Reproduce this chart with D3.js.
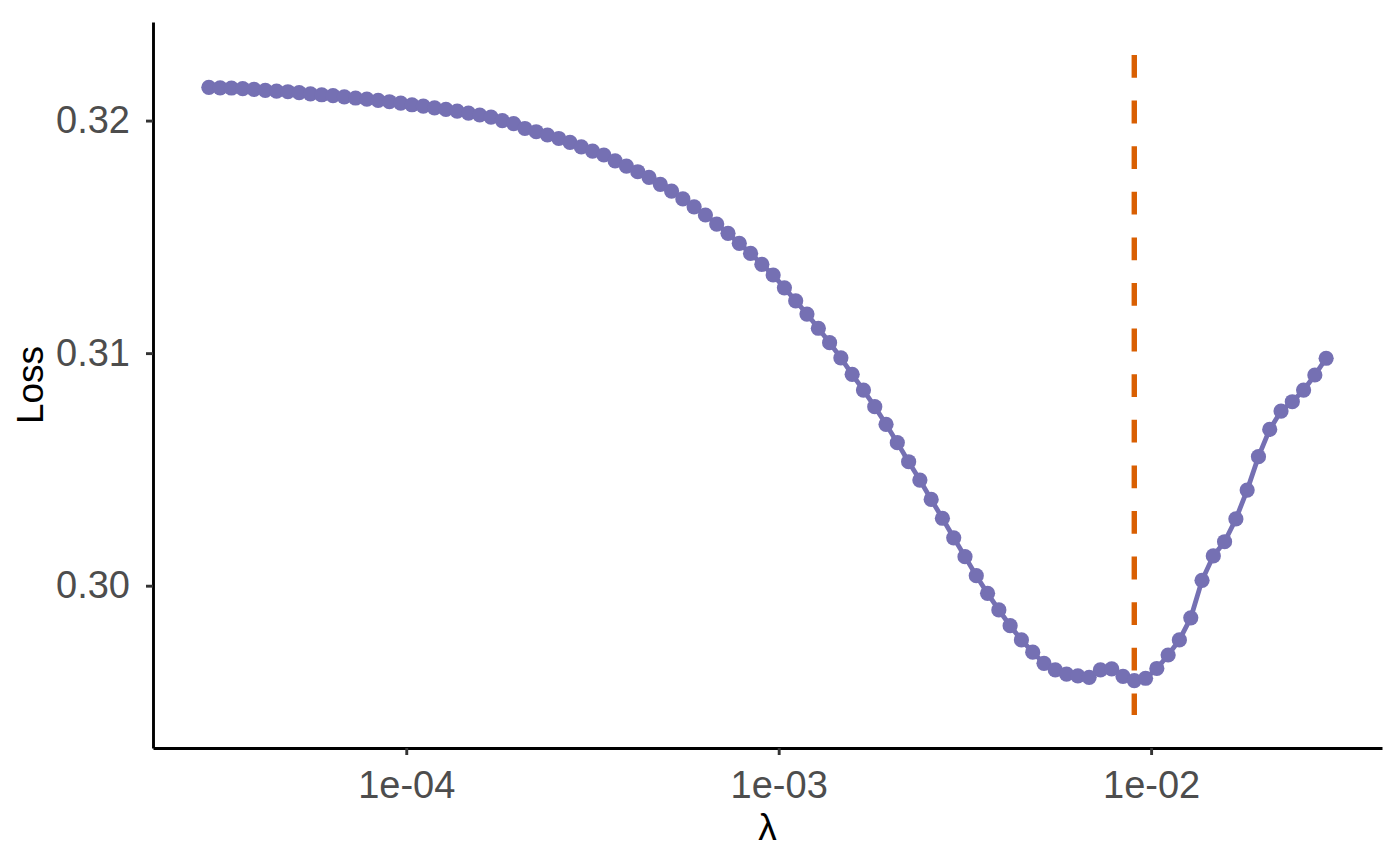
<!DOCTYPE html>
<meta charset="utf-8">
<style>
    body { margin: 0; background: white; }
    text { font-family: "Liberation Sans", Arial, sans-serif; }
    .tick text { fill: #4D4D4D; font-size: 38px; }
    .tick line { stroke: #333333; stroke-width: 2.9; }
    .domain { stroke: black; stroke-width: 2.9; }
    .title { fill: black; font-size: 37px; }
</style>
<svg width="1400" height="865"></svg>
<script src="https://d3js.org/d3.v7.min.js"></script>
<script>

// lambda path (x) and cross-validated loss (y)
var lambda = [
    2.951e-5, 3.164e-5, 3.393e-5, 3.638e-5, 3.901e-5, 4.183e-5, 4.485e-5, 4.810e-5, 5.157e-5, 5.530e-5,
    5.929e-5, 6.358e-5, 6.817e-5, 7.310e-5, 7.838e-5, 8.405e-5, 9.012e-5, 9.664e-5,
    1.036e-4, 1.111e-4, 1.191e-4, 1.278e-4, 1.370e-4, 1.469e-4, 1.575e-4, 1.689e-4, 1.811e-4, 1.942e-4,
    2.082e-4, 2.233e-4, 2.394e-4, 2.567e-4, 2.752e-4,
    2.951e-4, 3.164e-4, 3.393e-4, 3.638e-4, 3.901e-4, 4.183e-4, 4.485e-4, 4.810e-4, 5.157e-4, 5.530e-4,
    5.929e-4, 6.358e-4, 6.817e-4, 7.310e-4, 7.838e-4, 8.405e-4, 9.012e-4, 9.664e-4,
    1.036e-3, 1.111e-3, 1.191e-3, 1.278e-3, 1.370e-3, 1.469e-3, 1.575e-3, 1.689e-3, 1.811e-3, 1.942e-3,
    2.082e-3, 2.233e-3, 2.394e-3, 2.567e-3, 2.752e-3,
    2.951e-3, 3.164e-3, 3.393e-3, 3.638e-3, 3.901e-3, 4.183e-3, 4.485e-3, 4.810e-3, 5.157e-3, 5.530e-3,
    5.929e-3, 6.358e-3, 6.817e-3, 7.310e-3, 7.838e-3, 8.405e-3, 9.012e-3, 9.664e-3,
    1.036e-2, 1.111e-2, 1.191e-2, 1.278e-2, 1.370e-2, 1.469e-2, 1.575e-2, 1.689e-2, 1.811e-2, 1.942e-2,
    2.082e-2, 2.233e-2, 2.394e-2, 2.567e-2, 2.752e-2,
    2.951e-2
];

var loss = [
    0.32143, 0.32141, 0.32140, 0.32137, 0.32134, 0.32130, 0.32127, 0.32124, 0.32120, 0.32115,
    0.32111, 0.32107, 0.32102, 0.32097, 0.32092, 0.32087, 0.32081, 0.32075, 0.32068, 0.32062,
    0.32055, 0.32048, 0.32041, 0.32032, 0.32024, 0.32015, 0.32000, 0.31987, 0.31966, 0.31952,
    0.31938, 0.31923, 0.31906, 0.31887, 0.31869, 0.31852, 0.31827, 0.31804, 0.31780, 0.31756,
    0.31726, 0.31697, 0.31663, 0.31629, 0.31594, 0.31555, 0.31515, 0.31472, 0.31429, 0.31382,
    0.31336, 0.31281, 0.31225, 0.31168, 0.31107, 0.31045, 0.30980, 0.30909, 0.30841, 0.30770,
    0.30694, 0.30615, 0.30533, 0.30454, 0.30371, 0.30290, 0.30206, 0.30125, 0.30043, 0.29967,
    0.29896, 0.29828, 0.29767, 0.29714, 0.29666, 0.29638, 0.29620, 0.29612, 0.29606, 0.29638,
    0.29642, 0.29610, 0.29592, 0.29602, 0.29644, 0.29702, 0.29767, 0.29862, 0.30023, 0.30128,
    0.30189, 0.30287, 0.30411, 0.30555, 0.30672, 0.30751, 0.30791, 0.30841, 0.30906, 0.30978
];

// selected lambda and the extent of its marker line
var bestLambda = 9.012e-3;
var markerRange = [0.29444, 0.32282];

var xTicks = [1e-4, 1e-3, 1e-2],
    xTickLabels = ["1e-04", "1e-03", "1e-02"];
var yTicks = [0.30, 0.31, 0.32],
    yTickLabels = ["0.30", "0.31", "0.32"];

var svg = d3.select("svg"),
    panel = {left: 153, right: 1382, top: 22, bottom: 748};

// ggplot-style 5% expansion
var lx = d3.extent(lambda, function(d) { return Math.log10(d); }),
    padX = (lx[1] - lx[0]) * 0.05;
var x = d3.scaleLog()
    .domain([Math.pow(10, lx[0] - padX), Math.pow(10, lx[1] + padX)])
    .range([panel.left, panel.right]);

var ly = d3.extent(loss.concat(markerRange)),
    padY = (ly[1] - ly[0]) * 0.05;
var y = d3.scaleLinear()
    .domain([ly[0] - padY, ly[1] + padY])
    .range([panel.bottom, panel.top]);

var data = lambda.map(function(d, i) { return {lambda: d, loss: loss[i]}; });

svg.append("g")
    .attr("transform", "translate(0," + panel.bottom + ")")
    .call(d3.axisBottom(x)
        .tickValues(xTicks)
        .tickFormat(function(d, i) { return xTickLabels[i]; })
        .tickSizeInner(7)
        .tickSizeOuter(0)
        .tickPadding(16));

svg.append("g")
    .attr("transform", "translate(" + panel.left + ",0)")
    .call(d3.axisLeft(y)
        .tickValues(yTicks)
        .tickFormat(function(d, i) { return yTickLabels[i]; })
        .tickSizeInner(7)
        .tickSizeOuter(0)
        .tickPadding(16));

svg.selectAll(".tick text").attr("font-size", null).attr("font-family", null);

svg.append("path")
    .datum(data)
    .attr("fill", "none")
    .attr("stroke", "#7570B3")
    .attr("stroke-width", 4.8)
    .attr("d", d3.line()
        .x(function(d) { return x(d.lambda); })
        .y(function(d) { return y(d.loss); }));

svg.selectAll(".pt")
    .data(data)
    .enter().append("circle")
    .attr("class", "pt")
    .attr("cx", function(d) { return x(d.lambda); })
    .attr("cy", function(d) { return y(d.loss); })
    .attr("r", 7.6)
    .attr("fill", "#7570B3");

svg.append("line")
    .attr("x1", x(bestLambda))
    .attr("x2", x(bestLambda))
    .attr("y1", y(markerRange[1]))
    .attr("y2", y(markerRange[0]))
    .attr("stroke", "#D95F02")
    .attr("stroke-width", 5.4)
    .attr("stroke-dasharray", "22.8 22.8");

// axis titles
svg.append("text")
    .attr("class", "title")
    .attr("x", (panel.left + panel.right) / 2)
    .attr("y", 840)
    .attr("text-anchor", "middle")
    .text("λ");

svg.append("text")
    .attr("class", "title")
    .attr("transform", "translate(43," + ((panel.top + panel.bottom) / 2) + ") rotate(-90)")
    .attr("text-anchor", "middle")
    .text("Loss");

</script>
